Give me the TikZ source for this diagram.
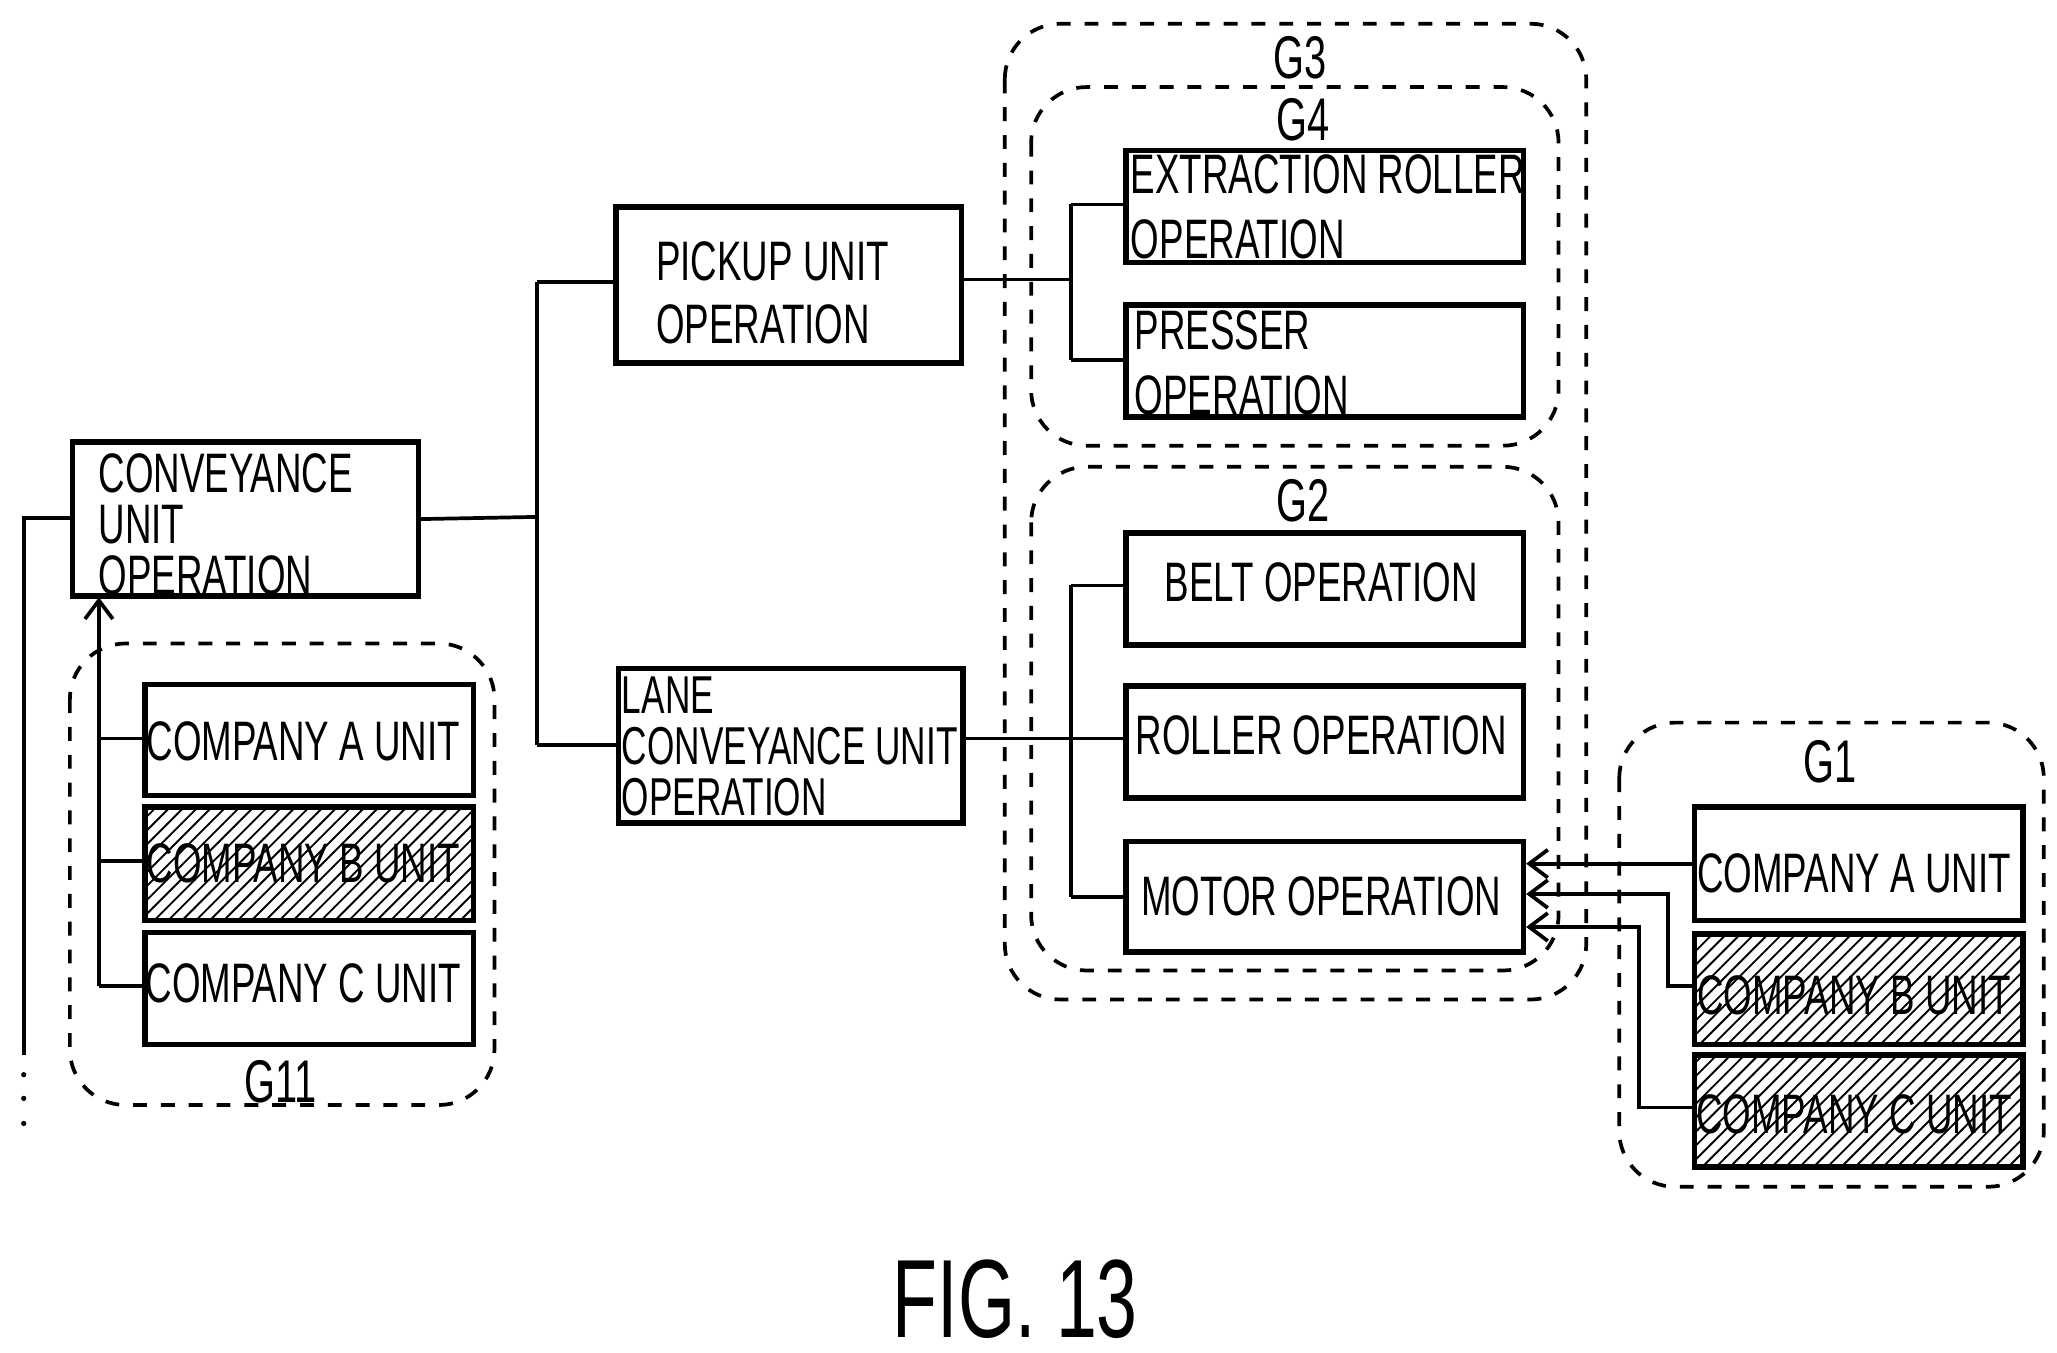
\documentclass[tikz,border=0pt]{standalone}
\usepackage{fontspec}
\setmainfont{Liberation Sans}[FakeStretch=0.66]
\usetikzlibrary{patterns,arrows.meta}
\begin{document}
\begin{tikzpicture}[x=0.01cm,y=-0.01cm,
    box/.style={draw,line width=1.2pt,anchor=north west,inner sep=0pt},
    txt/.style={inner sep=0pt,font=\fontsize{12}{14}\selectfont},
    lbl/.style={font=\fontsize{13}{13}\selectfont},
    grp/.style={draw,dashed,rounded corners=12pt,line width=0.8pt},
    hatch/.style={pattern=north east lines},
    link/.style={line width=0.8pt},
    arr/.style={link,-{Straight Barb[length=4pt,width=6pt]}}]
\useasboundingbox (0,0) rectangle (1560,1026);
% groups
\draw[grp] (762,18) rectangle (1203,758);
\draw[grp] (782,66) rectangle (1182,338);
\draw[grp] (782,354) rectangle (1182,736);
\draw[grp] (1228,548) rectangle (1550,900);
\draw[grp] (53,488) rectangle (375,838);
\node[lbl] at (986,44) {G3};
\node[lbl] at (988,91) {G4};
\node[lbl] at (988,380) {G2};
\node[lbl] at (1388,578) {G1};
\node[lbl] at (213,820) {G11};
% boxes
\node[box,minimum width=2.62cm,minimum height=1.17cm] (conv) at (53,333) {};
\node[txt,align=left,anchor=west,font=\fontsize{12}{11}\selectfont] at (74,398) {CONVEYANCE\\UNIT\\OPERATION};
\node[box,minimum width=2.62cm,minimum height=1.18cm] (pick) at (465,155) {};
\node[txt,align=left,anchor=west,font=\fontsize{12}{13.5}\selectfont] at (497,222) {PICKUP UNIT\\OPERATION};
\node[box,minimum width=2.61cm,minimum height=1.17cm] (lane) at (467,505) {};
\node[txt,align=left,anchor=west,font=\fontsize{11.5}{11}\selectfont] at (471,566) {LANE\\CONVEYANCE UNIT\\OPERATION};
\node[box,minimum width=3.01cm,minimum height=0.85cm] (extr) at (852,112) {};
\node[txt,align=left,anchor=west] at (857,157) {EXTRACTION ROLLER\\OPERATION};
\node[box,minimum width=3.01cm,minimum height=0.85cm] (pres) at (852,229) {};
\node[txt,align=left,anchor=west] at (860,275) {PRESSER\\OPERATION};
\node[box,minimum width=3.01cm,minimum height=0.85cm] (belt) at (852,402) {};
\node[txt] at (1002,442) {BELT OPERATION};
\node[box,minimum width=3.01cm,minimum height=0.85cm] (roll) at (852,518) {};
\node[txt] at (1002,558) {ROLLER OPERATION};
\node[box,minimum width=3.01cm,minimum height=0.84cm] (motor) at (852,636) {};
\node[txt] at (1002,680) {MOTOR OPERATION};
% G1 units
\node[box,minimum width=2.49cm,minimum height=0.86cm] (ga) at (1283,610) {};
\node[txt] at (1406,662) {COMPANY A UNIT};
\node[box,hatch,minimum width=2.49cm,minimum height=0.84cm] (gb) at (1283,706) {};
\node[txt] at (1406,755) {COMPANY B UNIT};
\node[box,hatch,minimum width=2.49cm,minimum height=0.85cm] (gc) at (1283,798) {};
\node[txt] at (1406,845) {COMPANY C UNIT};
% G11 units
\node[box,minimum width=2.49cm,minimum height=0.84cm] (ka) at (108,517) {};
\node[txt] at (230,562) {COMPANY A UNIT};
\node[box,hatch,minimum width=2.49cm,minimum height=0.86cm] (kb) at (108,610) {};
\node[txt] at (230,655) {COMPANY B UNIT};
\node[box,minimum width=2.49cm,minimum height=0.85cm] (kc) at (108,705) {};
\node[txt] at (230,746) {COMPANY C UNIT};
% tree links
\draw[link] (conv.east) -- (407,392);
\draw[link] (407,214) -- (407,565);
\draw[link] (407,214) -- (pick.west |- 0,214);
\draw[link] (407,565) -- (lane.west |- 0,565);
\draw[link] (pick.east |- 0,212) -- (812,212);
\draw[link] (812,155) -- (812,273);
\draw[link] (812,155) -- (extr.west |- 0,155);
\draw[link] (812,273) -- (pres.west |- 0,273);
\draw[link] (lane.east |- 0,560) -- (roll.west |- 0,560);
\draw[link] (812,444) -- (812,680);
\draw[link] (812,444) -- (belt.west |- 0,444);
\draw[link] (812,680) -- (motor.west |- 0,680);
% G1 arrows
\draw[arr] (ga.west |- 0,655) -- (motor.east |- 0,655);
\draw[arr] (gb.west |- 0,748) -- (1265,748) -- (1265,678) -- (motor.east |- 0,678);
\draw[arr] (gc.west |- 0,840) -- (1243,840) -- (1243,703) -- (motor.east |- 0,703);
% G11 arrows
\draw[arr] (75,748) -- (75,453);
\draw[link] (75,560) -- (ka.west |- 0,560);
\draw[link] (75,653) -- (kb.west |- 0,653);
\draw[link] (75,748) -- (kc.west |- 0,748);
% upper level
\draw[link] (conv.west |- 0,393) -- (18,393) -- (18,800);
\foreach \y in {815,833,852} \fill (18,\y) circle (2);
\node[font=\fontsize{24}{24}\selectfont] at (770,985) {FIG. 13};
\end{tikzpicture}
\end{document}
